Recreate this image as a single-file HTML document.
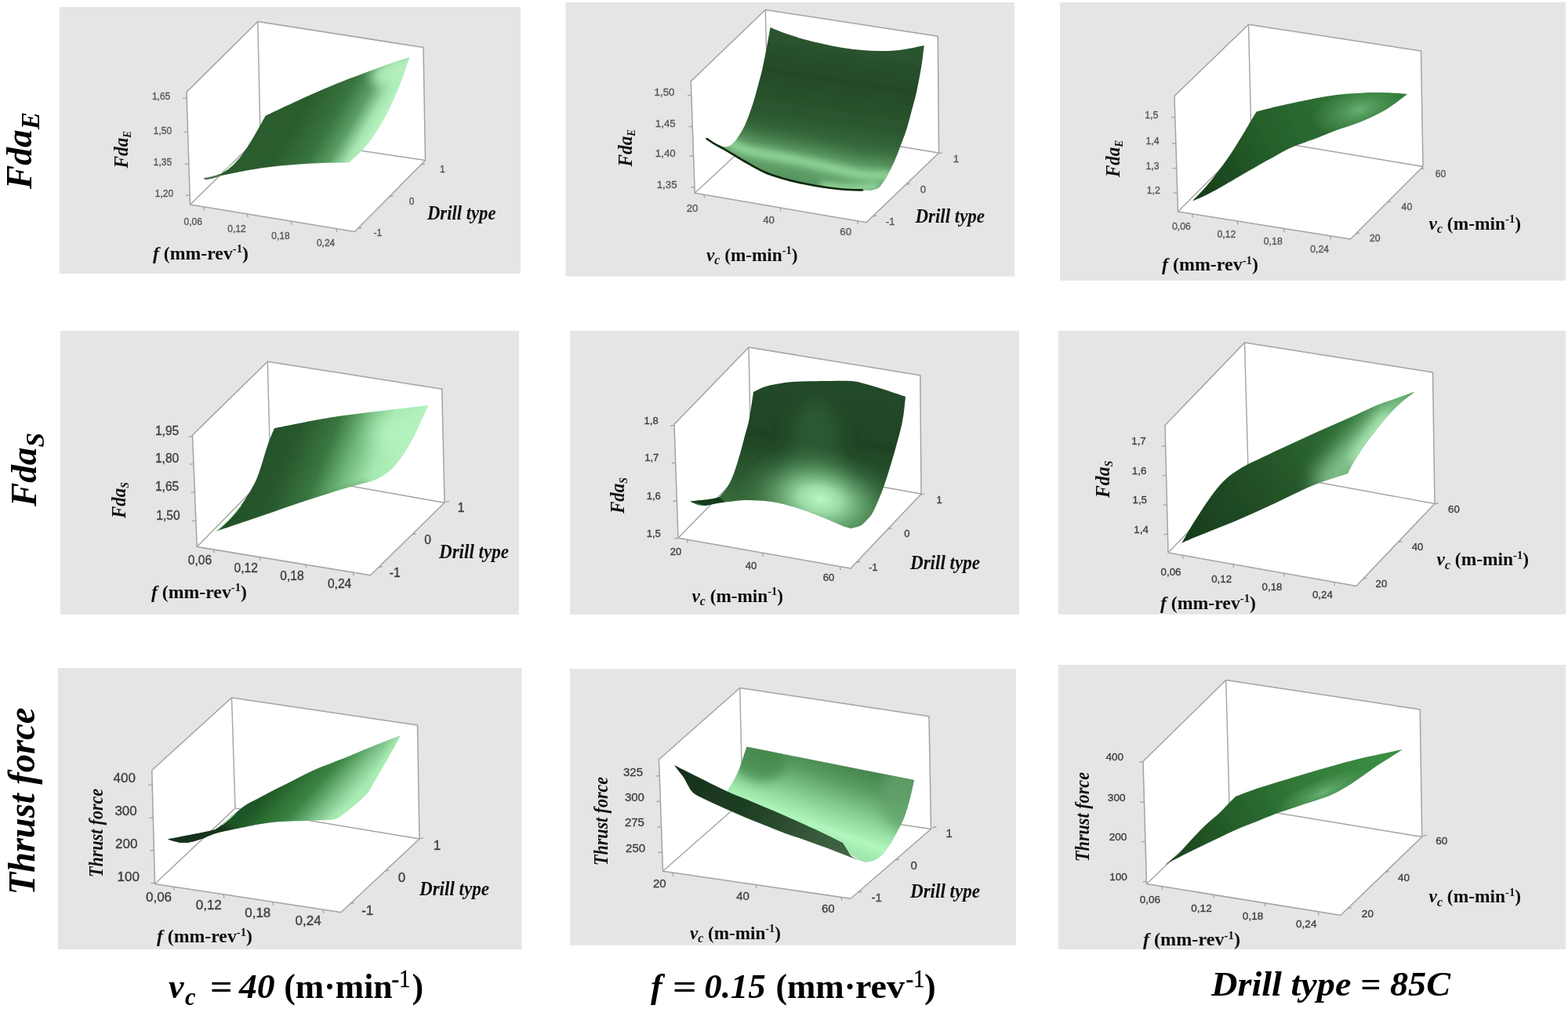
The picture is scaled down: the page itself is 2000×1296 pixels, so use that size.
<!DOCTYPE html>
<html lang="en">
<head>
<meta charset="utf-8">
<title>Response surface plots</title>
<style>
html,body{margin:0;padding:0;background:#fff;}
body{width:2000px;height:1296px;overflow:hidden;}
svg{display:block;}
.tk{font-family:"Liberation Sans",sans-serif;text-anchor:middle;}
.ax{font-family:"Liberation Serif",serif;font-weight:bold;font-style:italic;fill:#111;}
.up{font-style:normal;}
.big{font-family:"Liberation Serif",serif;font-weight:bold;font-style:italic;fill:#000;}
</style>
</head>
<body>
<svg width="2000" height="1296" viewBox="0 0 2000 1296">
<defs>
<filter id="soft" x="-5%" y="-5%" width="110%" height="110%"><feGaussianBlur stdDeviation="0.45"/></filter>
<filter id="sf" x="-5%" y="-5%" width="110%" height="110%"><feGaussianBlur stdDeviation="0.6"/></filter>
<filter id="b4" filterUnits="userSpaceOnUse" x="0" y="0" width="2000" height="1296"><feGaussianBlur stdDeviation="4"/></filter>
<filter id="b7" filterUnits="userSpaceOnUse" x="0" y="0" width="2000" height="1296"><feGaussianBlur stdDeviation="7"/></filter>
<filter id="b12" filterUnits="userSpaceOnUse" x="0" y="0" width="2000" height="1296"><feGaussianBlur stdDeviation="12"/></filter>
<clipPath id="c1"><path d="M261 228C263.33 227.42 270.5 226.17 275 224.5C279.5 222.83 283.83 220.75 288 218C292.17 215.25 295.92 212.33 300 208C304.08 203.67 308.33 198 312.5 192C316.67 186 320.62 179.42 325 172C329.38 164.58 336.46 151.58 338.75 147.5C353.12 141 394.38 121 425 108.5C455.62 96 506.25 78.5 522.5 72.5C520.75 77.58 515.75 93.08 512 103C508.25 112.92 504.17 123 500 132C495.83 141 491.17 149.67 487 157C482.83 164.33 479.17 170.17 475 176C470.83 181.83 467 186.75 462 192C457 197.25 447.83 204.92 445 207.5C439.17 207.58 421.67 207.58 410 208C398.33 208.42 386.67 209.08 375 210C363.33 210.92 350.5 212.17 340 213.5C329.5 214.83 320.83 216.42 312 218C303.17 219.58 295.5 221.33 287 223C278.5 224.67 265.33 227.17 261 228Z"/></clipPath>
<clipPath id="c2"><path d="M901.5 177C903.42 178 909.08 181.25 913 183C916.92 184.75 921.5 187.33 925 187.5C928.5 187.67 931.17 186.25 934 184C936.83 181.75 939.33 178 942 174C944.67 170 947.5 165.33 950 160C952.5 154.67 954.92 147.83 957 142C959.08 136.17 960.67 131.17 962.5 125C964.33 118.83 966.33 111.25 968 105C969.67 98.75 970.83 95 972.5 87.5C974.17 80 976.33 68.75 978 60C979.67 51.25 981.75 39.17 982.5 35C985.92 36.33 995.92 40.5 1003 43C1010.08 45.5 1017.17 47.83 1025 50C1032.83 52.17 1041.67 54.17 1050 56C1058.33 57.83 1066.67 59.67 1075 61C1083.33 62.33 1091.67 63.33 1100 64C1108.33 64.67 1116.67 65.08 1125 65C1133.33 64.92 1141.04 64.67 1150 63.5C1158.96 62.33 1173.96 58.92 1178.75 58C1178.29 61.67 1177.04 73 1176 80C1174.96 87 1173.83 93 1172.5 100C1171.17 107 1169.67 114.92 1168 122C1166.33 129.08 1164.33 135.67 1162.5 142.5C1160.67 149.33 1159.08 156.33 1157 163C1154.92 169.67 1152.5 175.83 1150 182.5C1147.5 189.17 1144.92 196.33 1142 203C1139.08 209.67 1135.17 217.5 1132.5 222.5C1129.83 227.5 1128.08 230.08 1126 233C1123.92 235.92 1122.67 238.33 1120 240C1117.33 241.67 1111.67 242.5 1110 243C1108.33 242.92 1105.83 242.75 1100 242.5C1094.17 242.25 1083.33 242.17 1075 241.5C1066.67 240.83 1058.33 239.75 1050 238.5C1041.67 237.25 1033.33 235.75 1025 234C1016.67 232.25 1008.33 230.42 1000 228C991.67 225.58 983.33 223.17 975 219.5C966.67 215.83 958.33 210.75 950 206C941.67 201.25 931.17 194.58 925 191C918.83 187.42 916.92 186.83 913 184.5C909.08 182.17 903.42 178.25 901.5 177Z"/></clipPath>
<clipPath id="c3"><path d="M1521 256.5C1524.17 253.08 1534.33 242.58 1540 236C1545.67 229.42 1550 223.67 1555 217C1560 210.33 1565 203.5 1570 196C1575 188.5 1580.83 178.83 1585 172C1589.17 165.17 1592.08 159.92 1595 155C1597.92 150.08 1601.25 144.58 1602.5 142.5C1606.75 141.42 1619.25 138.08 1628 136C1636.75 133.92 1646.33 131.83 1655 130C1663.67 128.17 1671.67 126.5 1680 125C1688.33 123.5 1696.67 122 1705 121C1713.33 120 1721.67 119.5 1730 119C1738.33 118.5 1747.5 118.08 1755 118C1762.5 117.92 1768.33 118.17 1775 118.5C1781.67 118.83 1791.67 119.75 1795 120C1792.83 121.67 1786.58 126.67 1782 130C1777.42 133.33 1772.83 136.83 1767.5 140C1762.17 143.17 1756.25 146.08 1750 149C1743.75 151.92 1737.5 154.67 1730 157.5C1722.5 160.33 1713.33 162.92 1705 166C1696.67 169.08 1689.58 172.33 1680 176C1670.42 179.67 1656.67 184 1647.5 188C1638.33 192 1632.08 196.17 1625 200C1617.92 203.83 1612.5 206.75 1605 211C1597.5 215.25 1588.33 220.67 1580 225.5C1571.67 230.33 1562 236.08 1555 240C1548 243.92 1543.67 246.25 1538 249C1532.33 251.75 1523.83 255.25 1521 256.5Z"/></clipPath>
<clipPath id="c4"><path d="M276 677.5C278 675.75 284 670.92 288 667C292 663.08 296 658.83 300 654C304 649.17 307.83 644.33 312 638C316.17 631.67 321.67 622.67 325 616C328.33 609.33 329.92 604 332 598C334.08 592 335.67 585.83 337.5 580C339.33 574.17 340.92 568.62 343 563C345.08 557.38 348.83 549.04 350 546.25C362.5 543.88 400 535.96 425 532C450 528.04 479.79 525 500 522.5C520.21 520 538.54 517.92 546.25 517C544.54 520.83 539.54 532.42 536 540C532.46 547.58 528.5 556 525 562.5C521.5 569 518.33 574 515 579C511.67 584 508.17 588.75 505 592.5C501.83 596.25 498.92 599 496 601.5C493.08 604 490.33 605.75 487.5 607.5C484.67 609.25 481.92 610.75 479 612C476.08 613.25 471.5 614.5 470 615C466.17 616 454.5 618.92 447 621C439.5 623.08 432.83 625.08 425 627.5C417.17 629.92 408.33 632.79 400 635.5C391.67 638.21 383.33 640.92 375 643.75C366.67 646.58 358.33 649.62 350 652.5C341.67 655.38 333.33 658.17 325 661C316.67 663.83 308.17 666.75 300 669.5C291.83 672.25 280 676.17 276 677.5Z"/></clipPath>
<clipPath id="c5"><path d="M880 639.5C881.67 639.33 886.67 638.83 890 638.5C893.33 638.17 896.67 637.92 900 637.5C903.33 637.08 907.08 636.58 910 636C912.92 635.42 916.25 634.33 917.5 634C918.75 632.5 922.5 628.58 925 625C927.5 621.42 930.17 617.5 932.5 612.5C934.83 607.5 936.92 601.25 939 595C941.08 588.75 943.17 581.5 945 575C946.83 568.5 948.33 562.25 950 556C951.67 549.75 953.67 543.5 955 537.5C956.33 531.5 957 526.25 958 520C959 513.75 960.5 503.33 961 500C963.33 498.92 970.17 495.17 975 493.5C979.83 491.83 983.75 491.08 990 490C996.25 488.92 1002.5 487.67 1012.5 487C1022.5 486.33 1037.92 486.17 1050 486C1062.08 485.83 1075.83 485.33 1085 486C1094.17 486.67 1098.33 488.33 1105 490C1111.67 491.67 1119.17 494.17 1125 496C1130.83 497.83 1135 499.33 1140 501C1145 502.67 1152.5 505.17 1155 506C1154.67 509.17 1153.83 518.92 1153 525C1152.17 531.08 1151.33 536.33 1150 542.5C1148.67 548.67 1146.67 555.75 1145 562C1143.33 568.25 1141.83 573.67 1140 580C1138.17 586.33 1136.08 593.33 1134 600C1131.92 606.67 1129.83 613.5 1127.5 620C1125.17 626.5 1122.5 633.17 1120 639C1117.5 644.83 1115 650.83 1112.5 655C1110 659.17 1107.5 661.42 1105 664C1102.5 666.58 1100.83 668.83 1097.5 670.5C1094.17 672.17 1087.08 673.42 1085 674C1083.33 673.5 1078.75 672.42 1075 671C1071.25 669.58 1067.5 667.67 1062.5 665.5C1057.5 663.33 1051.25 660.5 1045 658C1038.75 655.5 1031.67 652.75 1025 650.5C1018.33 648.25 1011.25 646.17 1005 644.5C998.75 642.83 993.67 641.5 987.5 640.5C981.33 639.5 974.25 638.92 968 638.5C961.75 638.08 956.33 637.75 950 638C943.67 638.25 936.25 639.25 930 640C923.75 640.75 917.5 641.67 912.5 642.5C907.5 643.33 903.75 644.75 900 645C896.25 645.25 893.33 644.92 890 644C886.67 643.08 881.67 640.25 880 639.5Z"/></clipPath>
<clipPath id="c6"><path d="M1507.5 692.5C1509.25 689.42 1514.25 680.25 1518 674C1521.75 667.75 1526 661.17 1530 655C1534 648.83 1537.83 642.83 1542 637C1546.17 631.17 1550.83 624.83 1555 620C1559.17 615.17 1562.83 611.5 1567 608C1571.17 604.5 1575.83 601.67 1580 599C1584.17 596.33 1587.83 594.17 1592 592C1596.17 589.83 1602.83 587 1605 586C1609.17 584 1621.67 577.92 1630 574C1638.33 570.08 1646.67 566.33 1655 562.5C1663.33 558.67 1671.67 554.75 1680 551C1688.33 547.25 1696.67 543.67 1705 540C1713.33 536.33 1721.67 532.75 1730 529C1738.33 525.25 1746.67 520.92 1755 517.5C1763.33 514.08 1771.67 511.5 1780 508.5C1788.33 505.5 1800.83 501 1805 499.5C1802.5 501.42 1795 506.75 1790 511C1785 515.25 1779.67 520.17 1775 525C1770.33 529.83 1766.17 535 1762 540C1757.83 545 1753.5 550.5 1750 555C1746.5 559.5 1743.92 562.83 1741 567C1738.08 571.17 1735.17 575.83 1732.5 580C1729.83 584.17 1727.25 588 1725 592C1722.75 596 1720 602 1719 604C1715.33 605.17 1704.33 608.5 1697 611C1689.67 613.5 1682.83 615.75 1675 619C1667.17 622.25 1658.33 626.58 1650 630.5C1641.67 634.42 1633.33 638.58 1625 642.5C1616.67 646.42 1608.33 650.25 1600 654C1591.67 657.75 1583.33 661.5 1575 665C1566.67 668.5 1558.33 671.67 1550 675C1541.67 678.33 1532.08 682.08 1525 685C1517.92 687.92 1510.42 691.25 1507.5 692.5Z"/></clipPath>
<clipPath id="c7"><path d="M213.75 1070.5C216.79 1069.92 225.96 1068.17 232 1067C238.04 1065.83 244.5 1064.58 250 1063.5C255.5 1062.42 260.83 1061.42 265 1060.5C269.17 1059.58 273.33 1058.42 275 1058C277 1056.5 282.83 1052.42 287 1049C291.17 1045.58 295.75 1041.08 300 1037.5C304.25 1033.92 307.5 1030.75 312.5 1027.5C317.5 1024.25 323.75 1021.33 330 1018C336.25 1014.67 342.5 1011.33 350 1007.5C357.5 1003.67 366.67 999.17 375 995C383.33 990.83 391.67 986.25 400 982.5C408.33 978.75 416.67 975.83 425 972.5C433.33 969.17 440.83 966.25 450 962.5C459.17 958.75 469.83 954.08 480 950C490.17 945.92 505.83 940 511 938C509.17 941.33 503.92 951 500 958C496.08 965 491.17 973.67 487.5 980C483.83 986.33 480.92 991 478 996C475.08 1001 472.67 1006.25 470 1010C467.33 1013.75 464.5 1016 462 1018.5C459.5 1021 457.83 1022.58 455 1025C452.17 1027.42 448.75 1030.08 445 1033C441.25 1035.92 435.67 1040.5 432.5 1042.5C429.33 1044.5 428.08 1044.42 426 1045C423.92 1045.58 421 1045.83 420 1046C417.5 1046.08 409.58 1046.33 405 1046.5C400.42 1046.67 398.33 1046.83 392.5 1047C386.67 1047.17 377.08 1047.21 370 1047.5C362.92 1047.79 356.67 1048.08 350 1048.75C343.33 1049.42 336.25 1050.46 330 1051.5C323.75 1052.54 318.33 1053.83 312.5 1055C306.67 1056.17 301.25 1057.17 295 1058.5C288.75 1059.83 280.83 1061.25 275 1063C269.17 1064.75 264.5 1067.33 260 1069C255.5 1070.67 251.75 1072 248 1073C244.25 1074 240.83 1074.75 237.5 1075C234.17 1075.25 230.92 1074.92 228 1074.5C225.08 1074.08 222.38 1073.17 220 1072.5C217.62 1071.83 214.79 1070.83 213.75 1070.5Z"/></clipPath>
<clipPath id="c8"><path d="M952.5 952.5L1166 995C1165.33 998 1163.42 1007.17 1162 1013C1160.58 1018.83 1159.17 1024.5 1157.5 1030C1155.83 1035.5 1154.08 1041 1152 1046C1149.92 1051 1147.33 1055.5 1145 1060C1142.67 1064.5 1140.5 1068.83 1138 1073C1135.5 1077.17 1132.5 1081.75 1130 1085C1127.5 1088.25 1125.5 1090.42 1123 1092.5C1120.5 1094.58 1118 1096.25 1115 1097.5C1112 1098.75 1106.67 1099.58 1105 1100C1103.5 1099.5 1100.5 1099.33 1096 1097C1091.5 1094.67 1087.33 1091.17 1078 1086C1068.67 1080.83 1053 1072 1040 1066C1027 1060 1013.33 1055.83 1000 1050C986.67 1044.17 970.83 1036.33 960 1031C949.17 1025.67 940.42 1021.67 935 1018C929.58 1014.33 928.75 1010.5 927.5 1009C928.42 1007.5 931.33 1002.75 933 1000C934.67 997.25 936 995.33 937.5 992.5C939 989.67 940.75 985.92 942 983C943.25 980.08 943.83 978.33 945 975C946.17 971.67 947.75 966.75 949 963C950.25 959.25 951.92 954.25 952.5 952.5Z"/></clipPath>
<clipPath id="c8b"><path d="M860 976C863.33 977.67 873.33 982.67 880 986C886.67 989.33 892.08 992.08 900 996C907.92 999.92 917.5 1005 927.5 1009.5C937.5 1014 947.92 1017.92 960 1023C972.08 1028.08 986.67 1034.17 1000 1040C1013.33 1045.83 1027.5 1052.17 1040 1058C1052.5 1063.83 1069.17 1072.17 1075 1075C1075.83 1076.33 1078.17 1080.17 1080 1083C1081.83 1085.83 1083.17 1089.5 1086 1092C1088.83 1094.5 1095.17 1097 1097 1098C1093.33 1096.58 1082.83 1092.5 1075 1089.5C1067.17 1086.5 1058.33 1083.08 1050 1080C1041.67 1076.92 1033.33 1073.92 1025 1071C1016.67 1068.08 1008.33 1065.58 1000 1062.5C991.67 1059.42 983.33 1055.83 975 1052.5C966.67 1049.17 958.33 1046 950 1042.5C941.67 1039 933.33 1035.25 925 1031.5C916.67 1027.75 906.17 1022.92 900 1020C893.83 1017.08 891 1015.83 888 1014C885 1012.17 883.83 1011.17 882 1009C880.17 1006.83 878.58 1003.75 877 1001C875.42 998.25 874.33 995.33 872.5 992.5C870.67 989.67 868.08 986.75 866 984C863.92 981.25 861 977.33 860 976Z"/></clipPath>
<clipPath id="c9"><path d="M1485 1104C1486.67 1102.67 1491.67 1098.75 1495 1096C1498.33 1093.25 1501.33 1091.17 1505 1087.5C1508.67 1083.83 1512.83 1078.58 1517 1074C1521.17 1069.42 1525.83 1064.25 1530 1060C1534.17 1055.75 1537.83 1052.25 1542 1048.5C1546.17 1044.75 1551 1041.25 1555 1037.5C1559 1033.75 1562.5 1029.58 1566 1026C1569.5 1022.42 1574.33 1017.67 1576 1016C1580 1014.5 1591 1010.08 1600 1007C1609 1003.92 1620.83 1000.33 1630 997.5C1639.17 994.67 1646.67 992.5 1655 990C1663.33 987.5 1671.67 984.92 1680 982.5C1688.33 980.08 1696.67 977.79 1705 975.5C1713.33 973.21 1720.83 971 1730 968.75C1739.17 966.5 1750.17 964.12 1760 962C1769.83 959.88 1784.17 957 1789 956C1786.17 957.83 1777.5 963.5 1772 967C1766.5 970.5 1761.33 973.42 1756 977C1750.67 980.58 1745.33 984.75 1740 988.5C1734.67 992.25 1729.33 996.08 1724 999.5C1718.67 1002.92 1712.92 1006.33 1708 1009C1703.08 1011.67 1696.75 1014.42 1694.5 1015.5C1692.08 1016.33 1685.33 1018.75 1680 1020.5C1674.67 1022.25 1668.33 1024.08 1662.5 1026C1656.67 1027.92 1651.08 1029.92 1645 1032C1638.92 1034.08 1633.5 1035.67 1626 1038.5C1618.5 1041.33 1608.08 1045.75 1600 1049C1591.92 1052.25 1585.83 1054.33 1577.5 1058C1569.17 1061.67 1558.75 1066.83 1550 1071C1541.25 1075.17 1533.33 1078.92 1525 1083C1516.67 1087.08 1506.67 1092 1500 1095.5C1493.33 1099 1487.5 1102.58 1485 1104Z"/></clipPath>
<linearGradient id="g1" gradientUnits="userSpaceOnUse" x1="330" y1="52" x2="492" y2="145"><stop offset="0" stop-color="#29592c"/><stop offset="0.5" stop-color="#2b5d2e"/><stop offset="0.7" stop-color="#38743f"/><stop offset="0.83" stop-color="#5c9e66"/><stop offset="0.93" stop-color="#a4e3af"/><stop offset="1" stop-color="#b8f3c2"/></linearGradient>
<linearGradient id="g2" gradientUnits="userSpaceOnUse" x1="1060" y1="40" x2="1030" y2="240"><stop offset="0" stop-color="#2c5630"/><stop offset="0.3" stop-color="#244a28"/><stop offset="0.55" stop-color="#2a562e"/><stop offset="0.75" stop-color="#3a7040"/><stop offset="1" stop-color="#55925d"/></linearGradient>
<linearGradient id="g3" gradientUnits="userSpaceOnUse" x1="1530" y1="250" x2="1790" y2="120"><stop offset="0" stop-color="#173d1b"/><stop offset="0.3" stop-color="#235a28"/><stop offset="0.65" stop-color="#2d6e34"/><stop offset="1" stop-color="#2f7a37"/></linearGradient>
<linearGradient id="g4" gradientUnits="userSpaceOnUse" x1="345" y1="520" x2="520" y2="590"><stop offset="0" stop-color="#234f27"/><stop offset="0.25" stop-color="#29592d"/><stop offset="0.46" stop-color="#3a7741"/><stop offset="0.63" stop-color="#6fb87a"/><stop offset="0.8" stop-color="#a6e8b1"/><stop offset="1" stop-color="#b6f3c0"/></linearGradient>
<linearGradient id="g5" gradientUnits="userSpaceOnUse" x1="1050" y1="486" x2="1030" y2="680"><stop offset="0" stop-color="#24492a"/><stop offset="0.4" stop-color="#1f4324"/><stop offset="0.7" stop-color="#2d5c32"/><stop offset="1" stop-color="#3f7a45"/></linearGradient>
<linearGradient id="g6" gradientUnits="userSpaceOnUse" x1="1520" y1="690" x2="1790" y2="505"><stop offset="0" stop-color="#183d1d"/><stop offset="0.4" stop-color="#245428"/><stop offset="0.75" stop-color="#2f6f36"/><stop offset="1" stop-color="#3a8a44"/></linearGradient>
<linearGradient id="g7" gradientUnits="userSpaceOnUse" x1="369.4" y1="977.1" x2="436" y2="1036"><stop offset="0" stop-color="#1f5526"/><stop offset="0.25" stop-color="#2d7034"/><stop offset="0.48" stop-color="#3b8443"/><stop offset="0.62" stop-color="#58a062"/><stop offset="0.75" stop-color="#78bd83"/><stop offset="0.88" stop-color="#93d69f"/><stop offset="1" stop-color="#a8ebb3"/></linearGradient>
<linearGradient id="g8" gradientUnits="userSpaceOnUse" x1="1075" y1="960" x2="1030" y2="1090"><stop offset="0" stop-color="#3c7b43"/><stop offset="0.25" stop-color="#579a5f"/><stop offset="0.5" stop-color="#86cf92"/><stop offset="0.72" stop-color="#b0f6bd"/><stop offset="0.9" stop-color="#9be3a8"/><stop offset="1" stop-color="#7fca8b"/></linearGradient>
<linearGradient id="g8b" gradientUnits="userSpaceOnUse" x1="860" y1="980" x2="1100" y2="1095"><stop offset="0" stop-color="#15301a"/><stop offset="0.4" stop-color="#1f3f24"/><stop offset="0.8" stop-color="#3a5d3e"/><stop offset="1" stop-color="#456a49"/></linearGradient>
<linearGradient id="g9" gradientUnits="userSpaceOnUse" x1="1500" y1="1100" x2="1780" y2="960"><stop offset="0" stop-color="#1a441e"/><stop offset="0.3" stop-color="#26602b"/><stop offset="0.6" stop-color="#327a39"/><stop offset="1" stop-color="#3c9044"/></linearGradient>
<radialGradient id="hl"><stop offset="0" stop-color="#b8f7c3" stop-opacity="1"/><stop offset="0.25" stop-color="#aef0ba" stop-opacity="0.85"/><stop offset="0.55" stop-color="#8fd69b" stop-opacity="0.45"/><stop offset="0.8" stop-color="#6fb87a" stop-opacity="0.15"/><stop offset="1" stop-color="#6fb87a" stop-opacity="0"/></radialGradient>
<radialGradient id="hm"><stop offset="0" stop-color="#6fb87a" stop-opacity="0.9"/><stop offset="0.5" stop-color="#5ea668" stop-opacity="0.5"/><stop offset="1" stop-color="#5ea668" stop-opacity="0"/></radialGradient>
</defs>
<rect width="2000" height="1296" fill="#fff"/>
<!-- panel 1 -->
<rect x="76" y="9" width="588" height="340" fill="#e5e5e5"/>
<g filter="url(#soft)">
<polygon points="238,117.5 328.75,27.5 540,60.5 542.5,204.5 452.5,295.5 242.5,261" fill="#fff" stroke="#a3a3a3" stroke-width="1.5" stroke-linejoin="round"/>
<path d="M328.75 27.5L332 173L542.5 204.5M332 173L242.5 261" fill="none" stroke="#a3a3a3" stroke-width="1.4"/>
<path d="M233.24 125.7L238.24 125.1M234.59 168.8L239.59 168.2M235.87 209.5L240.87 208.9M237.12 249.5L242.12 248.9M259.5 263.79L260.5 268.29M315.2 272.94L316.2 277.44M371.2 282.14L372.2 286.64M428.8 291.61L429.8 296.11M456.46 291.5L461.46 290.5M496.66 250.85L501.66 249.85M536.86 210.2L541.86 209.2" fill="none" stroke="#a3a3a3" stroke-width="1.3"/>
</g>
<g filter="url(#sf)">
<path d="M261 228C263.33 227.42 270.5 226.17 275 224.5C279.5 222.83 283.83 220.75 288 218C292.17 215.25 295.92 212.33 300 208C304.08 203.67 308.33 198 312.5 192C316.67 186 320.62 179.42 325 172C329.38 164.58 336.46 151.58 338.75 147.5C353.12 141 394.38 121 425 108.5C455.62 96 506.25 78.5 522.5 72.5C520.75 77.58 515.75 93.08 512 103C508.25 112.92 504.17 123 500 132C495.83 141 491.17 149.67 487 157C482.83 164.33 479.17 170.17 475 176C470.83 181.83 467 186.75 462 192C457 197.25 447.83 204.92 445 207.5C439.17 207.58 421.67 207.58 410 208C398.33 208.42 386.67 209.08 375 210C363.33 210.92 350.5 212.17 340 213.5C329.5 214.83 320.83 216.42 312 218C303.17 219.58 295.5 221.33 287 223C278.5 224.67 265.33 227.17 261 228Z" fill="url(#g1)"/>
<g clip-path="url(#c1)"><ellipse cx="498" cy="92" rx="26" ry="16" fill="#b6f2c0" opacity="0.9" filter="url(#b7)" transform="rotate(-25 498 92)"/></g>
<path d="M283 219C290 215 296 210 303 203" stroke="#b9dfbe" stroke-width="1.4" fill="none"/>
<path d="M261.5 228C267 227.6 273 226 280 223.5" stroke="#4f6f54" stroke-width="2.4" fill="none" stroke-linecap="round"/>
</g>
<g class="tk" font-size="12" fill="#585858" stroke="#585858" stroke-width="0.35" filter="url(#soft)">
<text x="205.6" y="127.42">1,65</text>
<text x="207.5" y="170.52">1,50</text>
<text x="207.5" y="211.22">1,35</text>
<text x="209.4" y="251.22">1,20</text>
<text x="246.3" y="286.82">0,06</text>
<text x="302" y="295.57">0,12</text>
<text x="358" y="304.92">0,18</text>
<text x="415.6" y="313.72">0,24</text>
<text x="481.9" y="301.22">-1</text>
<text x="525" y="260.57">0</text>
<text x="564.4" y="219.92">1</text>
</g>
<g class="ax" filter="url(#soft)">
<text transform="translate(162.5 214.5) rotate(-90)" font-size="25" textLength="47.5" lengthAdjust="spacingAndGlyphs">Fda<tspan font-size="14" dy="4">E</tspan></text>
<text x="195" y="330.5" font-size="23.5" textLength="122" lengthAdjust="spacingAndGlyphs">f<tspan class="up"> (mm-rev<tspan font-size="14.57" dy="-8.46">-1</tspan><tspan dy="8.46">)</tspan></tspan></text>
<text x="545" y="280" font-size="24.5" textLength="87.5" lengthAdjust="spacingAndGlyphs">Drill type</text>
</g>
<!-- panel 2 -->
<rect x="721.5" y="3" width="572.5" height="349.5" fill="#e5e5e5"/>
<g filter="url(#soft)">
<polygon points="881.25,103.75 976.25,12.5 1196.25,46.25 1197.5,195 1105,283.75 886.25,246.25" fill="#fff" stroke="#a3a3a3" stroke-width="1.5" stroke-linejoin="round"/>
<path d="M976.25 12.5L980 159L1197.5 195M980 159L886.25 246.25" fill="none" stroke="#a3a3a3" stroke-width="1.4"/>
<path d="M876.86 121.85L881.86 121.25M878.27 161.85L883.27 161.25M879.58 199.35L884.58 198.75M880.99 239.35L885.99 238.75M897.73 248.22L898.73 252.72M995.23 264.93L996.23 269.43M1093.38 281.76L1094.38 286.26M1113.17 275.91L1118.17 274.91M1155.53 235.26L1160.53 234.26M1196.55 195.91L1201.55 194.91" fill="none" stroke="#a3a3a3" stroke-width="1.3"/>
</g>
<g filter="url(#sf)">
<path d="M901.5 177C903.42 178 909.08 181.25 913 183C916.92 184.75 921.5 187.33 925 187.5C928.5 187.67 931.17 186.25 934 184C936.83 181.75 939.33 178 942 174C944.67 170 947.5 165.33 950 160C952.5 154.67 954.92 147.83 957 142C959.08 136.17 960.67 131.17 962.5 125C964.33 118.83 966.33 111.25 968 105C969.67 98.75 970.83 95 972.5 87.5C974.17 80 976.33 68.75 978 60C979.67 51.25 981.75 39.17 982.5 35C985.92 36.33 995.92 40.5 1003 43C1010.08 45.5 1017.17 47.83 1025 50C1032.83 52.17 1041.67 54.17 1050 56C1058.33 57.83 1066.67 59.67 1075 61C1083.33 62.33 1091.67 63.33 1100 64C1108.33 64.67 1116.67 65.08 1125 65C1133.33 64.92 1141.04 64.67 1150 63.5C1158.96 62.33 1173.96 58.92 1178.75 58C1178.29 61.67 1177.04 73 1176 80C1174.96 87 1173.83 93 1172.5 100C1171.17 107 1169.67 114.92 1168 122C1166.33 129.08 1164.33 135.67 1162.5 142.5C1160.67 149.33 1159.08 156.33 1157 163C1154.92 169.67 1152.5 175.83 1150 182.5C1147.5 189.17 1144.92 196.33 1142 203C1139.08 209.67 1135.17 217.5 1132.5 222.5C1129.83 227.5 1128.08 230.08 1126 233C1123.92 235.92 1122.67 238.33 1120 240C1117.33 241.67 1111.67 242.5 1110 243C1108.33 242.92 1105.83 242.75 1100 242.5C1094.17 242.25 1083.33 242.17 1075 241.5C1066.67 240.83 1058.33 239.75 1050 238.5C1041.67 237.25 1033.33 235.75 1025 234C1016.67 232.25 1008.33 230.42 1000 228C991.67 225.58 983.33 223.17 975 219.5C966.67 215.83 958.33 210.75 950 206C941.67 201.25 931.17 194.58 925 191C918.83 187.42 916.92 186.83 913 184.5C909.08 182.17 903.42 178.25 901.5 177Z" fill="url(#g2)"/>
<g clip-path="url(#c2)">
<path d="M928 180C931.67 181.83 938 187.5 950 191C962 194.5 987.5 198.5 1000 201C1012.5 203.5 1015 203.83 1025 206C1035 208.17 1047.5 211.17 1060 214C1072.5 216.83 1087.5 221.33 1100 223C1112.5 224.67 1129.17 223.83 1135 224" stroke="#8fd59a" stroke-width="30" fill="none" filter="url(#b12)" stroke-linecap="round" opacity="0.6"/>
<path d="M928 180C931.67 181.83 938 187.5 950 191C962 194.5 987.5 198.5 1000 201C1012.5 203.5 1015 203.83 1025 206C1035 208.17 1047.5 211.17 1060 214C1072.5 216.83 1087.5 221.33 1100 223C1112.5 224.67 1129.17 223.83 1135 224" stroke="#95db9f" stroke-width="11" fill="none" filter="url(#b4)" stroke-linecap="round" opacity="0.9"/>
<path d="M1050 237C1055.83 237.5 1073.67 239.83 1085 240C1096.33 240.17 1112.5 238.33 1118 238" stroke="#a2e6ad" stroke-width="9" fill="none" filter="url(#b4)" stroke-linecap="round" opacity="0.9"/>
</g>
<path d="M1100 242.5C1095.83 242.33 1083.33 242.17 1075 241.5C1066.67 240.83 1058.33 239.75 1050 238.5C1041.67 237.25 1033.33 235.75 1025 234C1016.67 232.25 1008.33 230.42 1000 228C991.67 225.58 983.33 223.17 975 219.5C966.67 215.83 958.33 210.75 950 206C941.67 201.25 931.17 194.58 925 191C918.83 187.42 916.92 186.83 913 184.5C909.08 182.17 903.42 178.25 901.5 177" stroke="#10260f" stroke-width="2.6" fill="none" stroke-linecap="round"/>
</g>
<g class="tk" font-size="13.3" fill="#585858" stroke="#585858" stroke-width="0.35" filter="url(#soft)">
<text x="847.5" y="122.29">1,50</text>
<text x="848.75" y="162.29">1,45</text>
<text x="848.75" y="199.79">1,40</text>
<text x="850.6" y="239.79">1,35</text>
<text x="883.1" y="269.99">20</text>
<text x="980.6" y="284.79">40</text>
<text x="1078.75" y="300.39">60</text>
<text x="1135.6" y="286.69">-1</text>
<text x="1177.5" y="246.04">0</text>
<text x="1219.4" y="206.69">1</text>
</g>
<g class="ax" filter="url(#soft)">
<text transform="translate(806 212.5) rotate(-90)" font-size="25" textLength="47.5" lengthAdjust="spacingAndGlyphs">Fda<tspan font-size="14" dy="4">E</tspan></text>
<text x="901" y="332.5" font-size="23.5" textLength="116.5" lengthAdjust="spacingAndGlyphs">v<tspan font-size="15.98" dy="4.7">c</tspan><tspan class="up" dy="-4.7"> (m-min<tspan font-size="14.57" dy="-8.46">-1</tspan><tspan dy="8.46">)</tspan></tspan></text>
<text x="1167.5" y="283.75" font-size="24.5" textLength="88.5" lengthAdjust="spacingAndGlyphs">Drill type</text>
</g>
<!-- panel 3 -->
<rect x="1352" y="3" width="645" height="355" fill="#e5e5e5"/>
<g filter="url(#soft)">
<polygon points="1498,122.5 1592.5,31.25 1812.5,65 1815,212.5 1722.5,305 1502.5,270" fill="#fff" stroke="#a3a3a3" stroke-width="1.5" stroke-linejoin="round"/>
<path d="M1592.5 31.25L1596 176L1815 212.5M1596 176L1502.5 270" fill="none" stroke="#a3a3a3" stroke-width="1.4"/>
<path d="M1493.82 149.95L1498.82 149.35M1494.83 183.1L1499.83 182.5M1495.8 214.95L1500.8 214.35M1496.76 246.2L1501.76 245.6M1520.43 272.85L1521.43 277.35M1577.93 282L1578.93 286.5M1637.28 291.44L1638.28 295.94M1696.63 300.88L1697.63 305.38M1729.29 298.21L1734.29 297.21M1769.29 258.21L1774.29 257.21M1811.79 215.72L1816.79 214.72" fill="none" stroke="#a3a3a3" stroke-width="1.3"/>
</g>
<g filter="url(#sf)">
<path d="M1521 256.5C1524.17 253.08 1534.33 242.58 1540 236C1545.67 229.42 1550 223.67 1555 217C1560 210.33 1565 203.5 1570 196C1575 188.5 1580.83 178.83 1585 172C1589.17 165.17 1592.08 159.92 1595 155C1597.92 150.08 1601.25 144.58 1602.5 142.5C1606.75 141.42 1619.25 138.08 1628 136C1636.75 133.92 1646.33 131.83 1655 130C1663.67 128.17 1671.67 126.5 1680 125C1688.33 123.5 1696.67 122 1705 121C1713.33 120 1721.67 119.5 1730 119C1738.33 118.5 1747.5 118.08 1755 118C1762.5 117.92 1768.33 118.17 1775 118.5C1781.67 118.83 1791.67 119.75 1795 120C1792.83 121.67 1786.58 126.67 1782 130C1777.42 133.33 1772.83 136.83 1767.5 140C1762.17 143.17 1756.25 146.08 1750 149C1743.75 151.92 1737.5 154.67 1730 157.5C1722.5 160.33 1713.33 162.92 1705 166C1696.67 169.08 1689.58 172.33 1680 176C1670.42 179.67 1656.67 184 1647.5 188C1638.33 192 1632.08 196.17 1625 200C1617.92 203.83 1612.5 206.75 1605 211C1597.5 215.25 1588.33 220.67 1580 225.5C1571.67 230.33 1562 236.08 1555 240C1548 243.92 1543.67 246.25 1538 249C1532.33 251.75 1523.83 255.25 1521 256.5Z" fill="url(#g3)"/>
<g clip-path="url(#c3)"><ellipse cx="1734" cy="140" rx="62" ry="30" fill="url(#hm)" transform="rotate(-14 1734 140)"/></g>
</g>
<g class="tk" font-size="12.3" fill="#585858" stroke="#585858" stroke-width="0.35" filter="url(#soft)">
<text x="1468.75" y="150.68">1,5</text>
<text x="1470" y="183.83">1,4</text>
<text x="1470" y="215.68">1,3</text>
<text x="1471.25" y="246.93">1,2</text>
<text x="1506.9" y="293.18">0,06</text>
<text x="1564.4" y="303.18">0,12</text>
<text x="1623.75" y="311.93">0,18</text>
<text x="1683.1" y="321.93">0,24</text>
<text x="1753.75" y="308.18">20</text>
<text x="1794.4" y="268.18">40</text>
<text x="1837.5" y="225.68">60</text>
</g>
<g class="ax" filter="url(#soft)">
<text transform="translate(1428 226) rotate(-90)" font-size="25" textLength="47" lengthAdjust="spacingAndGlyphs">Fda<tspan font-size="14" dy="4">E</tspan></text>
<text x="1482" y="345" font-size="23.5" textLength="123" lengthAdjust="spacingAndGlyphs">f<tspan class="up"> (mm-rev<tspan font-size="14.57" dy="-8.46">-1</tspan><tspan dy="8.46">)</tspan></tspan></text>
<text x="1822.5" y="292.5" font-size="23.5" textLength="117.5" lengthAdjust="spacingAndGlyphs">v<tspan font-size="15.98" dy="4.7">c</tspan><tspan class="up" dy="-4.7"> (m-min<tspan font-size="14.57" dy="-8.46">-1</tspan><tspan dy="8.46">)</tspan></tspan></text>
</g>
<!-- panel 4 -->
<rect x="77" y="422" width="585" height="361.75" fill="#e5e5e5"/>
<g filter="url(#soft)">
<polygon points="245.5,555 341.25,461.25 563.75,496.25 567,641.25 472.5,733.75 251.25,697.5" fill="#fff" stroke="#a3a3a3" stroke-width="1.5" stroke-linejoin="round"/>
<path d="M341.25 461.25L345 602L567 641.25M345 602L251.25 697.5" fill="none" stroke="#a3a3a3" stroke-width="1.4"/>
<path d="M240.56 557.1L245.56 556.5M241.98 592.3L246.98 591.7M243.43 628.3L248.43 627.7M244.9 664.6L249.9 664M272.16 700.93L273.16 705.43M330.91 710.55L331.91 715.05M389.66 720.18L390.66 724.68M450.26 730.11L451.26 734.61M482.89 723.58L487.89 722.58M525.64 681.73L530.64 680.73M567.79 640.48L572.79 639.48" fill="none" stroke="#a3a3a3" stroke-width="1.3"/>
</g>
<g filter="url(#sf)">
<path d="M276 677.5C278 675.75 284 670.92 288 667C292 663.08 296 658.83 300 654C304 649.17 307.83 644.33 312 638C316.17 631.67 321.67 622.67 325 616C328.33 609.33 329.92 604 332 598C334.08 592 335.67 585.83 337.5 580C339.33 574.17 340.92 568.62 343 563C345.08 557.38 348.83 549.04 350 546.25C362.5 543.88 400 535.96 425 532C450 528.04 479.79 525 500 522.5C520.21 520 538.54 517.92 546.25 517C544.54 520.83 539.54 532.42 536 540C532.46 547.58 528.5 556 525 562.5C521.5 569 518.33 574 515 579C511.67 584 508.17 588.75 505 592.5C501.83 596.25 498.92 599 496 601.5C493.08 604 490.33 605.75 487.5 607.5C484.67 609.25 481.92 610.75 479 612C476.08 613.25 471.5 614.5 470 615C466.17 616 454.5 618.92 447 621C439.5 623.08 432.83 625.08 425 627.5C417.17 629.92 408.33 632.79 400 635.5C391.67 638.21 383.33 640.92 375 643.75C366.67 646.58 358.33 649.62 350 652.5C341.67 655.38 333.33 658.17 325 661C316.67 663.83 308.17 666.75 300 669.5C291.83 672.25 280 676.17 276 677.5Z" fill="url(#g4)"/>
<g clip-path="url(#c4)"><ellipse cx="502" cy="552" rx="30" ry="24" fill="#b8f5c2" opacity="0.7" filter="url(#b12)"/><path d="M470 617L276 679" stroke="#2c5e31" stroke-width="5" opacity="0.5" filter="url(#b4)"/></g>
<path d="M276 677.5C288 668 299 657 308 644" stroke="#a9d9b0" stroke-width="1.3" fill="none"/>
</g>
<g class="tk" font-size="15.6" fill="#3e3e3e" stroke="#3e3e3e" stroke-width="0.35" filter="url(#soft)">
<text x="213.1" y="555.02">1,95</text>
<text x="213.1" y="590.22">1,80</text>
<text x="213.1" y="626.22">1,65</text>
<text x="214.4" y="662.52">1,50</text>
<text x="255" y="720.02">0,06</text>
<text x="313.75" y="730.02">0,12</text>
<text x="372.5" y="740.02">0,18</text>
<text x="433.1" y="750.02">0,24</text>
<text x="503.75" y="736.22">-1</text>
<text x="545.6" y="694.37">0</text>
<text x="588.1" y="653.12">1</text>
</g>
<g class="ax" filter="url(#soft)">
<text transform="translate(160 661) rotate(-90)" font-size="25" textLength="46" lengthAdjust="spacingAndGlyphs">Fda<tspan font-size="15" dy="4">S</tspan></text>
<text x="193" y="762.5" font-size="23.5" textLength="122" lengthAdjust="spacingAndGlyphs">f<tspan class="up"> (mm-rev<tspan font-size="14.57" dy="-8.46">-1</tspan><tspan dy="8.46">)</tspan></tspan></text>
<text x="560" y="711.5" font-size="24.5" textLength="89" lengthAdjust="spacingAndGlyphs">Drill type</text>
</g>
<!-- panel 5 -->
<rect x="727" y="422" width="573" height="361.75" fill="#e5e5e5"/>
<g filter="url(#soft)">
<polygon points="860,541.25 955,443 1173.75,478.75 1175,630 1085,725 865,686.25" fill="#fff" stroke="#a3a3a3" stroke-width="1.5" stroke-linejoin="round"/>
<path d="M955 443L958 591L1175 630M958 591L865 686.25" fill="none" stroke="#a3a3a3" stroke-width="1.4"/>
<path d="M855.05 543.25L860.05 542.65M856.69 590.75L861.69 590.15M858.37 639.5L863.37 638.9M860.01 687L865.01 686.4M876.2 688.22L877.2 692.72M972.4 705.17L973.4 709.67M1071.2 722.57L1072.2 727.07M1092.34 717.25L1097.34 716.25M1132.61 674.75L1137.61 673.75M1174.01 631.05L1179.01 630.05" fill="none" stroke="#a3a3a3" stroke-width="1.3"/>
</g>
<g filter="url(#sf)">
<path d="M880 639.5C881.67 639.33 886.67 638.83 890 638.5C893.33 638.17 896.67 637.92 900 637.5C903.33 637.08 907.08 636.58 910 636C912.92 635.42 916.25 634.33 917.5 634C918.75 632.5 922.5 628.58 925 625C927.5 621.42 930.17 617.5 932.5 612.5C934.83 607.5 936.92 601.25 939 595C941.08 588.75 943.17 581.5 945 575C946.83 568.5 948.33 562.25 950 556C951.67 549.75 953.67 543.5 955 537.5C956.33 531.5 957 526.25 958 520C959 513.75 960.5 503.33 961 500C963.33 498.92 970.17 495.17 975 493.5C979.83 491.83 983.75 491.08 990 490C996.25 488.92 1002.5 487.67 1012.5 487C1022.5 486.33 1037.92 486.17 1050 486C1062.08 485.83 1075.83 485.33 1085 486C1094.17 486.67 1098.33 488.33 1105 490C1111.67 491.67 1119.17 494.17 1125 496C1130.83 497.83 1135 499.33 1140 501C1145 502.67 1152.5 505.17 1155 506C1154.67 509.17 1153.83 518.92 1153 525C1152.17 531.08 1151.33 536.33 1150 542.5C1148.67 548.67 1146.67 555.75 1145 562C1143.33 568.25 1141.83 573.67 1140 580C1138.17 586.33 1136.08 593.33 1134 600C1131.92 606.67 1129.83 613.5 1127.5 620C1125.17 626.5 1122.5 633.17 1120 639C1117.5 644.83 1115 650.83 1112.5 655C1110 659.17 1107.5 661.42 1105 664C1102.5 666.58 1100.83 668.83 1097.5 670.5C1094.17 672.17 1087.08 673.42 1085 674C1083.33 673.5 1078.75 672.42 1075 671C1071.25 669.58 1067.5 667.67 1062.5 665.5C1057.5 663.33 1051.25 660.5 1045 658C1038.75 655.5 1031.67 652.75 1025 650.5C1018.33 648.25 1011.25 646.17 1005 644.5C998.75 642.83 993.67 641.5 987.5 640.5C981.33 639.5 974.25 638.92 968 638.5C961.75 638.08 956.33 637.75 950 638C943.67 638.25 936.25 639.25 930 640C923.75 640.75 917.5 641.67 912.5 642.5C907.5 643.33 903.75 644.75 900 645C896.25 645.25 893.33 644.92 890 644C886.67 643.08 881.67 640.25 880 639.5Z" fill="url(#g5)"/>
<g clip-path="url(#c5)">
<ellipse cx="1040" cy="580" rx="34" ry="70" fill="#4a8a52" opacity="0.3" filter="url(#b12)"/><ellipse cx="1046" cy="637" rx="105" ry="64" fill="url(#hl)" transform="rotate(12 1046 637)"/>
<path d="M880 639.5L917 634L925 640L900 645Z" fill="#173a1c"/>
</g>
</g>
<g class="tk" font-size="13" fill="#3e3e3e" stroke="#3e3e3e" stroke-width="0.35" filter="url(#soft)">
<text x="830.6" y="540.93">1,8</text>
<text x="831.25" y="588.43">1,7</text>
<text x="833.75" y="637.18">1,6</text>
<text x="833.75" y="684.68">1,5</text>
<text x="861.9" y="708.43">20</text>
<text x="958.1" y="725.93">40</text>
<text x="1056.9" y="740.93">60</text>
<text x="1113.75" y="727.78">-1</text>
<text x="1156.9" y="685.28">0</text>
<text x="1198.1" y="641.58">1</text>
</g>
<g class="ax" filter="url(#soft)">
<text transform="translate(796 655) rotate(-90)" font-size="25" textLength="46" lengthAdjust="spacingAndGlyphs">Fda<tspan font-size="15" dy="4">S</tspan></text>
<text x="882.5" y="767.5" font-size="23.5" textLength="116.5" lengthAdjust="spacingAndGlyphs">v<tspan font-size="15.98" dy="4.7">c</tspan><tspan class="up" dy="-4.7"> (m-min<tspan font-size="14.57" dy="-8.46">-1</tspan><tspan dy="8.46">)</tspan></tspan></text>
<text x="1161" y="726" font-size="24.5" textLength="89" lengthAdjust="spacingAndGlyphs">Drill type</text>
</g>
<!-- panel 6 -->
<rect x="1350" y="422" width="647" height="361.75" fill="#e5e5e5"/>
<g filter="url(#soft)">
<polygon points="1486,542.5 1587.5,437 1827.5,475 1830,642.5 1730,747.5 1490,705" fill="#fff" stroke="#a3a3a3" stroke-width="1.5" stroke-linejoin="round"/>
<path d="M1587.5 437L1592 599L1830 642.5M1592 599L1490 705" fill="none" stroke="#a3a3a3" stroke-width="1.4"/>
<path d="M1481.64 569.3L1486.64 568.7M1482.57 606.8L1487.57 606.2M1483.49 644.3L1488.49 643.7M1484.41 681.8L1489.41 681.2M1508.13 708.21L1509.13 712.71M1572.73 719.65L1573.73 724.15M1637.13 731.05L1638.13 735.55M1701.53 742.46L1702.53 746.96M1738.65 738.41L1743.65 737.41M1783.32 691.51L1788.32 690.51M1829.75 642.76L1834.75 641.76" fill="none" stroke="#a3a3a3" stroke-width="1.3"/>
</g>
<g filter="url(#sf)">
<path d="M1507.5 692.5C1509.25 689.42 1514.25 680.25 1518 674C1521.75 667.75 1526 661.17 1530 655C1534 648.83 1537.83 642.83 1542 637C1546.17 631.17 1550.83 624.83 1555 620C1559.17 615.17 1562.83 611.5 1567 608C1571.17 604.5 1575.83 601.67 1580 599C1584.17 596.33 1587.83 594.17 1592 592C1596.17 589.83 1602.83 587 1605 586C1609.17 584 1621.67 577.92 1630 574C1638.33 570.08 1646.67 566.33 1655 562.5C1663.33 558.67 1671.67 554.75 1680 551C1688.33 547.25 1696.67 543.67 1705 540C1713.33 536.33 1721.67 532.75 1730 529C1738.33 525.25 1746.67 520.92 1755 517.5C1763.33 514.08 1771.67 511.5 1780 508.5C1788.33 505.5 1800.83 501 1805 499.5C1802.5 501.42 1795 506.75 1790 511C1785 515.25 1779.67 520.17 1775 525C1770.33 529.83 1766.17 535 1762 540C1757.83 545 1753.5 550.5 1750 555C1746.5 559.5 1743.92 562.83 1741 567C1738.08 571.17 1735.17 575.83 1732.5 580C1729.83 584.17 1727.25 588 1725 592C1722.75 596 1720 602 1719 604C1715.33 605.17 1704.33 608.5 1697 611C1689.67 613.5 1682.83 615.75 1675 619C1667.17 622.25 1658.33 626.58 1650 630.5C1641.67 634.42 1633.33 638.58 1625 642.5C1616.67 646.42 1608.33 650.25 1600 654C1591.67 657.75 1583.33 661.5 1575 665C1566.67 668.5 1558.33 671.67 1550 675C1541.67 678.33 1532.08 682.08 1525 685C1517.92 687.92 1510.42 691.25 1507.5 692.5Z" fill="url(#g6)"/>
<g clip-path="url(#c6)"><path d="M1786 522C1760 548 1735 572 1700 612" stroke="#8fce9a" stroke-width="48" fill="none" filter="url(#b12)" stroke-linecap="round" opacity="0.85"/><path d="M1768 532C1754 548 1742 565 1730 584" stroke="#abe9b5" stroke-width="16" fill="none" filter="url(#b7)" stroke-linecap="round"/></g>
</g>
<g class="tk" font-size="13.3" fill="#3e3e3e" stroke="#3e3e3e" stroke-width="0.35" filter="url(#soft)">
<text x="1452.5" y="567.29">1,7</text>
<text x="1453.1" y="604.79">1,6</text>
<text x="1453.75" y="642.29">1,5</text>
<text x="1455.6" y="679.79">1,4</text>
<text x="1493.5" y="733.79">0,06</text>
<text x="1558.1" y="742.89">0,12</text>
<text x="1622.5" y="752.89">0,18</text>
<text x="1686.9" y="762.89">0,24</text>
<text x="1761.9" y="749.19">20</text>
<text x="1808.1" y="702.29">40</text>
<text x="1854.4" y="653.54">60</text>
</g>
<g class="ax" filter="url(#soft)">
<text transform="translate(1415 635) rotate(-90)" font-size="25" textLength="47.5" lengthAdjust="spacingAndGlyphs">Fda<tspan font-size="15" dy="4">S</tspan></text>
<text x="1480" y="776.5" font-size="23.5" textLength="122" lengthAdjust="spacingAndGlyphs">f<tspan class="up"> (mm-rev<tspan font-size="14.57" dy="-8.46">-1</tspan><tspan dy="8.46">)</tspan></tspan></text>
<text x="1832.5" y="721" font-size="23.5" textLength="117.5" lengthAdjust="spacingAndGlyphs">v<tspan font-size="15.98" dy="4.7">c</tspan><tspan class="up" dy="-4.7"> (m-min<tspan font-size="14.57" dy="-8.46">-1</tspan><tspan dy="8.46">)</tspan></tspan></text>
</g>
<!-- panel 7 -->
<rect x="73.75" y="852" width="591.75" height="359" fill="#e5e5e5"/>
<g filter="url(#soft)">
<polygon points="193.75,982.5 295.5,890 532.5,925 535,1070 435,1163.75 197.5,1127.5" fill="#fff" stroke="#a3a3a3" stroke-width="1.5" stroke-linejoin="round"/>
<path d="M295.5 890L300 1031L535 1070M300 1031L197.5 1127.5" fill="none" stroke="#a3a3a3" stroke-width="1.4"/>
<path d="M189.22 1001.4L194.22 1000.8M190.31 1043.6L195.31 1043M191.39 1085.1L196.39 1084.5M192.46 1126.7L197.46 1126.1M221.2 1131.12L222.2 1135.62M284.95 1140.85L285.95 1145.35M347.45 1150.39L348.45 1154.89M411.8 1160.21L412.8 1164.71M446.52 1152.95L451.52 1151.95M491.16 1111.1L496.16 1110.1M535.16 1069.85L540.16 1068.85" fill="none" stroke="#a3a3a3" stroke-width="1.3"/>
</g>
<g filter="url(#sf)">
<path d="M213.75 1070.5C216.79 1069.92 225.96 1068.17 232 1067C238.04 1065.83 244.5 1064.58 250 1063.5C255.5 1062.42 260.83 1061.42 265 1060.5C269.17 1059.58 273.33 1058.42 275 1058C277 1056.5 282.83 1052.42 287 1049C291.17 1045.58 295.75 1041.08 300 1037.5C304.25 1033.92 307.5 1030.75 312.5 1027.5C317.5 1024.25 323.75 1021.33 330 1018C336.25 1014.67 342.5 1011.33 350 1007.5C357.5 1003.67 366.67 999.17 375 995C383.33 990.83 391.67 986.25 400 982.5C408.33 978.75 416.67 975.83 425 972.5C433.33 969.17 440.83 966.25 450 962.5C459.17 958.75 469.83 954.08 480 950C490.17 945.92 505.83 940 511 938C509.17 941.33 503.92 951 500 958C496.08 965 491.17 973.67 487.5 980C483.83 986.33 480.92 991 478 996C475.08 1001 472.67 1006.25 470 1010C467.33 1013.75 464.5 1016 462 1018.5C459.5 1021 457.83 1022.58 455 1025C452.17 1027.42 448.75 1030.08 445 1033C441.25 1035.92 435.67 1040.5 432.5 1042.5C429.33 1044.5 428.08 1044.42 426 1045C423.92 1045.58 421 1045.83 420 1046C417.5 1046.08 409.58 1046.33 405 1046.5C400.42 1046.67 398.33 1046.83 392.5 1047C386.67 1047.17 377.08 1047.21 370 1047.5C362.92 1047.79 356.67 1048.08 350 1048.75C343.33 1049.42 336.25 1050.46 330 1051.5C323.75 1052.54 318.33 1053.83 312.5 1055C306.67 1056.17 301.25 1057.17 295 1058.5C288.75 1059.83 280.83 1061.25 275 1063C269.17 1064.75 264.5 1067.33 260 1069C255.5 1070.67 251.75 1072 248 1073C244.25 1074 240.83 1074.75 237.5 1075C234.17 1075.25 230.92 1074.92 228 1074.5C225.08 1074.08 222.38 1073.17 220 1072.5C217.62 1071.83 214.79 1070.83 213.75 1070.5Z" fill="url(#g7)"/>
<g clip-path="url(#c7)"><path d="M514 934C500 958 487 980 470 1010C455 1028 440 1040 420 1048" stroke="#a9efb5" stroke-width="8" fill="none" filter="url(#b4)" opacity="0.8"/><path d="M205 1060L285 1050L300 1062L250 1080L205 1080Z" fill="#14321a" filter="url(#b4)"/></g>
<path d="M283 1052C289 1048 295 1042 300 1037.5" stroke="#a9d9b0" stroke-width="1.6" fill="none"/>
</g>
<g class="tk" font-size="17" fill="#3e3e3e" stroke="#3e3e3e" stroke-width="0.35" filter="url(#soft)">
<text x="158.75" y="998.22">400</text>
<text x="160.6" y="1040.42">300</text>
<text x="161.25" y="1081.92">200</text>
<text x="163.75" y="1123.52">100</text>
<text x="202.5" y="1150.32">0,06</text>
<text x="266.25" y="1159.72">0,12</text>
<text x="328.75" y="1169.72">0,18</text>
<text x="393.1" y="1179.72">0,24</text>
<text x="468.75" y="1166.72">-1</text>
<text x="512.5" y="1124.87">0</text>
<text x="557.5" y="1083.62">1</text>
</g>
<g class="ax" filter="url(#soft)">
<text transform="translate(131 1119) rotate(-90)" font-size="25" textLength="113" lengthAdjust="spacingAndGlyphs">Thrust force</text>
<text x="200" y="1202" font-size="23.5" textLength="122" lengthAdjust="spacingAndGlyphs">f<tspan class="up"> (mm-rev<tspan font-size="14.57" dy="-8.46">-1</tspan><tspan dy="8.46">)</tspan></tspan></text>
<text x="535" y="1141.5" font-size="24.5" textLength="89" lengthAdjust="spacingAndGlyphs">Drill type</text>
</g>
<!-- panel 8 -->
<rect x="727" y="853" width="569" height="352.7" fill="#e5e5e5"/>
<g filter="url(#soft)">
<polygon points="840.5,968.75 943.75,877.5 1185,913.75 1187.5,1057.5 1085,1146.25 845.5,1111.25" fill="#fff" stroke="#a3a3a3" stroke-width="1.5" stroke-linejoin="round"/>
<path d="M943.75 877.5L947 1022L1187.5 1057.5M947 1022L845.5 1111.25" fill="none" stroke="#a3a3a3" stroke-width="1.4"/>
<path d="M836.23 990.1L841.23 989.5M837.36 1022.5L842.36 1021.9M838.5 1054.9L843.5 1054.3M839.65 1087.5L844.65 1086.9M857.75 1113.04L858.75 1117.54M964 1128.57L965 1133.07M1072.75 1144.46L1073.75 1148.96M1094.24 1138.25L1099.24 1137.25M1141.88 1097L1146.88 1096M1189.52 1055.75L1194.52 1054.75" fill="none" stroke="#a3a3a3" stroke-width="1.3"/>
</g>
<g filter="url(#sf)">
<path d="M952.5 952.5L1166 995C1165.33 998 1163.42 1007.17 1162 1013C1160.58 1018.83 1159.17 1024.5 1157.5 1030C1155.83 1035.5 1154.08 1041 1152 1046C1149.92 1051 1147.33 1055.5 1145 1060C1142.67 1064.5 1140.5 1068.83 1138 1073C1135.5 1077.17 1132.5 1081.75 1130 1085C1127.5 1088.25 1125.5 1090.42 1123 1092.5C1120.5 1094.58 1118 1096.25 1115 1097.5C1112 1098.75 1106.67 1099.58 1105 1100C1103.5 1099.5 1100.5 1099.33 1096 1097C1091.5 1094.67 1087.33 1091.17 1078 1086C1068.67 1080.83 1053 1072 1040 1066C1027 1060 1013.33 1055.83 1000 1050C986.67 1044.17 970.83 1036.33 960 1031C949.17 1025.67 940.42 1021.67 935 1018C929.58 1014.33 928.75 1010.5 927.5 1009C928.42 1007.5 931.33 1002.75 933 1000C934.67 997.25 936 995.33 937.5 992.5C939 989.67 940.75 985.92 942 983C943.25 980.08 943.83 978.33 945 975C946.17 971.67 947.75 966.75 949 963C950.25 959.25 951.92 954.25 952.5 952.5Z" fill="url(#g8)"/>
<g clip-path="url(#c8)">
<ellipse cx="1152" cy="1015" rx="28" ry="45" fill="#65a36e" opacity="0.75" filter="url(#b7)"/>
<ellipse cx="968" cy="972" rx="34" ry="24" fill="#3f8246" opacity="0.7" filter="url(#b7)" transform="rotate(11 968 972)"/>
</g>
<path d="M860 976C863.33 977.67 873.33 982.67 880 986C886.67 989.33 892.08 992.08 900 996C907.92 999.92 917.5 1005 927.5 1009.5C937.5 1014 947.92 1017.92 960 1023C972.08 1028.08 986.67 1034.17 1000 1040C1013.33 1045.83 1027.5 1052.17 1040 1058C1052.5 1063.83 1069.17 1072.17 1075 1075C1075.83 1076.33 1078.17 1080.17 1080 1083C1081.83 1085.83 1083.17 1089.5 1086 1092C1088.83 1094.5 1095.17 1097 1097 1098C1093.33 1096.58 1082.83 1092.5 1075 1089.5C1067.17 1086.5 1058.33 1083.08 1050 1080C1041.67 1076.92 1033.33 1073.92 1025 1071C1016.67 1068.08 1008.33 1065.58 1000 1062.5C991.67 1059.42 983.33 1055.83 975 1052.5C966.67 1049.17 958.33 1046 950 1042.5C941.67 1039 933.33 1035.25 925 1031.5C916.67 1027.75 906.17 1022.92 900 1020C893.83 1017.08 891 1015.83 888 1014C885 1012.17 883.83 1011.17 882 1009C880.17 1006.83 878.58 1003.75 877 1001C875.42 998.25 874.33 995.33 872.5 992.5C870.67 989.67 868.08 986.75 866 984C863.92 981.25 861 977.33 860 976Z" fill="url(#g8b)"/>
</g>
<g class="tk" font-size="15" fill="#3e3e3e" stroke="#3e3e3e" stroke-width="0.35" filter="url(#soft)">
<text x="807.5" y="989.6">325</text>
<text x="809.4" y="1022">300</text>
<text x="809.4" y="1054.4">275</text>
<text x="810.6" y="1087">250</text>
<text x="841.25" y="1132.3">20</text>
<text x="947.5" y="1147.9">40</text>
<text x="1056.25" y="1163.5">60</text>
<text x="1118.1" y="1150.4">-1</text>
<text x="1165.6" y="1109.15">0</text>
<text x="1210.6" y="1067.9">1</text>
</g>
<g class="ax" filter="url(#soft)">
<text transform="translate(775 1104) rotate(-90)" font-size="25" textLength="113" lengthAdjust="spacingAndGlyphs">Thrust force</text>
<text x="880" y="1197.5" font-size="23.5" textLength="116" lengthAdjust="spacingAndGlyphs">v<tspan font-size="15.98" dy="4.7">c</tspan><tspan class="up" dy="-4.7"> (m-min<tspan font-size="14.57" dy="-8.46">-1</tspan><tspan dy="8.46">)</tspan></tspan></text>
<text x="1161" y="1145" font-size="24.5" textLength="89" lengthAdjust="spacingAndGlyphs">Drill type</text>
</g>
<!-- panel 9 -->
<rect x="1350" y="848" width="647" height="363" fill="#e5e5e5"/>
<g filter="url(#soft)">
<polygon points="1458,971.25 1563.75,867.5 1811.25,905 1813.75,1067.5 1710,1167.5 1462.5,1127.5" fill="#fff" stroke="#a3a3a3" stroke-width="1.5" stroke-linejoin="round"/>
<path d="M1563.75 867.5L1568 1027L1813.75 1067.5M1568 1027L1462.5 1127.5" fill="none" stroke="#a3a3a3" stroke-width="1.4"/>
<path d="M1453.01 972.2L1458.01 971.6M1454.49 1023.5L1459.49 1022.9M1455.94 1073.8L1460.94 1073.2M1457.4 1124.8L1462.4 1124.2M1481.86 1130.63L1482.86 1135.13M1547.46 1141.23L1548.46 1145.73M1613.06 1151.83L1614.06 1156.33M1681.21 1162.85L1682.21 1167.35M1718.94 1158.88L1723.94 1157.88M1766.93 1112.63L1771.93 1111.63M1814.91 1066.38L1819.91 1065.38" fill="none" stroke="#a3a3a3" stroke-width="1.3"/>
</g>
<g filter="url(#sf)">
<path d="M1485 1104C1486.67 1102.67 1491.67 1098.75 1495 1096C1498.33 1093.25 1501.33 1091.17 1505 1087.5C1508.67 1083.83 1512.83 1078.58 1517 1074C1521.17 1069.42 1525.83 1064.25 1530 1060C1534.17 1055.75 1537.83 1052.25 1542 1048.5C1546.17 1044.75 1551 1041.25 1555 1037.5C1559 1033.75 1562.5 1029.58 1566 1026C1569.5 1022.42 1574.33 1017.67 1576 1016C1580 1014.5 1591 1010.08 1600 1007C1609 1003.92 1620.83 1000.33 1630 997.5C1639.17 994.67 1646.67 992.5 1655 990C1663.33 987.5 1671.67 984.92 1680 982.5C1688.33 980.08 1696.67 977.79 1705 975.5C1713.33 973.21 1720.83 971 1730 968.75C1739.17 966.5 1750.17 964.12 1760 962C1769.83 959.88 1784.17 957 1789 956C1786.17 957.83 1777.5 963.5 1772 967C1766.5 970.5 1761.33 973.42 1756 977C1750.67 980.58 1745.33 984.75 1740 988.5C1734.67 992.25 1729.33 996.08 1724 999.5C1718.67 1002.92 1712.92 1006.33 1708 1009C1703.08 1011.67 1696.75 1014.42 1694.5 1015.5C1692.08 1016.33 1685.33 1018.75 1680 1020.5C1674.67 1022.25 1668.33 1024.08 1662.5 1026C1656.67 1027.92 1651.08 1029.92 1645 1032C1638.92 1034.08 1633.5 1035.67 1626 1038.5C1618.5 1041.33 1608.08 1045.75 1600 1049C1591.92 1052.25 1585.83 1054.33 1577.5 1058C1569.17 1061.67 1558.75 1066.83 1550 1071C1541.25 1075.17 1533.33 1078.92 1525 1083C1516.67 1087.08 1506.67 1092 1500 1095.5C1493.33 1099 1487.5 1102.58 1485 1104Z" fill="url(#g9)"/>
<g clip-path="url(#c9)"><ellipse cx="1688" cy="1011" rx="66" ry="19" fill="url(#hm)" transform="rotate(-22 1688 1011)"/></g>
</g>
<g class="tk" font-size="13.6" fill="#3e3e3e" stroke="#3e3e3e" stroke-width="0.35" filter="url(#soft)">
<text x="1421.8" y="970.3">400</text>
<text x="1424.2" y="1021.6">300</text>
<text x="1426" y="1071.9">200</text>
<text x="1426.5" y="1122.9">100</text>
<text x="1466.9" y="1152.4">0,06</text>
<text x="1532.5" y="1163">0,12</text>
<text x="1598.1" y="1173">0,18</text>
<text x="1666.25" y="1183">0,24</text>
<text x="1744.4" y="1169.9">20</text>
<text x="1790.6" y="1123.65">40</text>
<text x="1838.75" y="1077.4">60</text>
</g>
<g class="ax" filter="url(#soft)">
<text transform="translate(1389 1099) rotate(-90)" font-size="25" textLength="114" lengthAdjust="spacingAndGlyphs">Thrust force</text>
<text x="1458" y="1206" font-size="23.5" textLength="124" lengthAdjust="spacingAndGlyphs">f<tspan class="up"> (mm-rev<tspan font-size="14.57" dy="-8.46">-1</tspan><tspan dy="8.46">)</tspan></tspan></text>
<text x="1822.5" y="1151" font-size="23.5" textLength="117.5" lengthAdjust="spacingAndGlyphs">v<tspan font-size="15.98" dy="4.7">c</tspan><tspan class="up" dy="-4.7"> (m-min<tspan font-size="14.57" dy="-8.46">-1</tspan><tspan dy="8.46">)</tspan></tspan></text>
</g>
<g class="big">
<text transform="translate(39.5 241) rotate(-90)" font-size="46" textLength="98" lengthAdjust="spacingAndGlyphs">Fda<tspan font-size="34" dy="10">E</tspan></text>
<text transform="translate(45.5 646) rotate(-90)" font-size="46" textLength="94" lengthAdjust="spacingAndGlyphs">Fda<tspan font-size="34" dy="10">S</tspan></text>
<text transform="translate(43.8 1141.5) rotate(-90)" font-size="47.5" textLength="239" lengthAdjust="spacingAndGlyphs">Thrust force</text>
<text y="1273" font-size="44"><tspan x="215" textLength="19.5" lengthAdjust="spacingAndGlyphs">v</tspan><tspan x="236" textLength="13.5" lengthAdjust="spacingAndGlyphs" font-size="32" dy="9">c</tspan> <tspan x="267.5" textLength="28.8" lengthAdjust="spacingAndGlyphs" dy="-9">=</tspan> <tspan x="305" textLength="45.6" lengthAdjust="spacingAndGlyphs">40</tspan> <tspan x="362.3" textLength="138.3" lengthAdjust="spacingAndGlyphs" class="up">(m·min</tspan><tspan x="499.5" textLength="24" lengthAdjust="spacingAndGlyphs" class="up" font-weight="normal" font-size="32" dy="-14" stroke="#000" stroke-width="0.5">-1</tspan><tspan x="525.5" class="up" dy="14">)</tspan></text>
<text y="1272.8" font-size="44"><tspan x="830">f</tspan> <tspan x="857.5" textLength="30.7" lengthAdjust="spacingAndGlyphs">=</tspan> <tspan x="898.3" textLength="78.2" lengthAdjust="spacingAndGlyphs">0.15</tspan> <tspan x="989.5" textLength="87.2" lengthAdjust="spacingAndGlyphs" class="up">(mm</tspan><tspan x="1076.8" class="up">·</tspan><tspan x="1090.9" textLength="63.2" lengthAdjust="spacingAndGlyphs" class="up">rev</tspan><tspan x="1155.5" textLength="24" lengthAdjust="spacingAndGlyphs" class="up" font-weight="normal" font-size="32" dy="-14" stroke="#000" stroke-width="0.5">-1</tspan><tspan x="1179" class="up" dy="14">)</tspan></text>
<text x="1545" y="1270" font-size="44" textLength="305" lengthAdjust="spacingAndGlyphs">Drill type = 85C</text>
</g>
</svg>
</body>
</html>
